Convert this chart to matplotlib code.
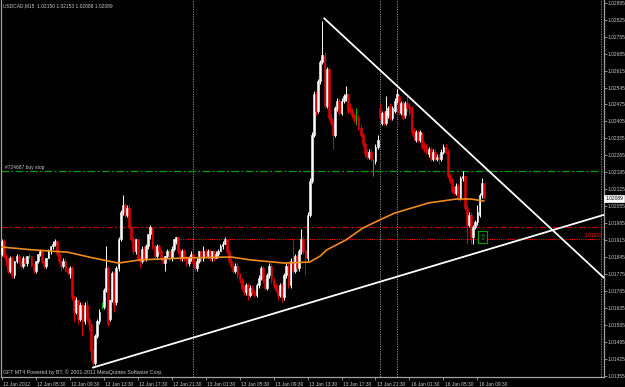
import matplotlib
matplotlib.use("Agg")
import matplotlib.pyplot as plt
import matplotlib.transforms as mtransforms
import numpy as np

# ---------------- data (USDCAD M15, first bar 12 Jan 01:30) ----------------
opens = [
 1.0186, 1.0191, 1.0185, 1.0183, 1.0179, 1.0184, 1.0177, 1.0183, 1.0185, 1.0183,
 1.0181, 1.0184, 1.0182, 1.0185, 1.0185, 1.0181, 1.0179, 1.0183, 1.0186, 1.0187,
 1.0183, 1.0181, 1.0184, 1.0187, 1.0189, 1.0190, 1.0191, 1.0186, 1.0183, 1.0181,
 1.0183, 1.0179, 1.0178, 1.0180, 1.0168, 1.0162, 1.0167, 1.0159, 1.0165, 1.0158,
 1.0165, 1.0159, 1.0157, 1.0146, 1.0141, 1.0152, 1.0158, 1.0164, 1.0164, 1.0171,
 1.0180, 1.0159, 1.0167, 1.0178, 1.0166, 1.0180, 1.0192, 1.0203, 1.0206, 1.0202,
 1.0205, 1.0197, 1.0192, 1.0187, 1.0192, 1.0184, 1.0183, 1.0188, 1.0184, 1.0189,
 1.0194, 1.0197, 1.0189, 1.0185, 1.0189, 1.0187, 1.0184, 1.0182, 1.0185, 1.0187,
 1.0184, 1.0188, 1.0191, 1.0193, 1.0187, 1.0184, 1.0187, 1.0184, 1.0182, 1.0184,
 1.0186, 1.0182, 1.0180, 1.0183, 1.0187, 1.0184, 1.0187, 1.0185, 1.0187, 1.0184,
 1.0187, 1.0184, 1.0186, 1.0187, 1.0189, 1.0190, 1.0192, 1.0187, 1.0183, 1.0181,
 1.0179, 1.0181, 1.0177, 1.0175, 1.0172, 1.0170, 1.0173, 1.0169, 1.0172, 1.0170,
 1.0169, 1.0173, 1.0176, 1.0180, 1.0175, 1.0172, 1.0177, 1.0181, 1.0175, 1.0173,
 1.0171, 1.0169, 1.0173, 1.0168, 1.0177, 1.0181, 1.0173, 1.0183, 1.0179, 1.0185,
 1.0180, 1.0187, 1.0192, 1.0187, 1.0184, 1.0202, 1.0216, 1.0235, 1.0252, 1.0245,
 1.0257, 1.0265, 1.0268, 1.0247, 1.0262, 1.0242, 1.0240, 1.0235, 1.0246, 1.0249,
 1.0244, 1.0249, 1.0250, 1.0252, 1.0246, 1.0245, 1.0243, 1.0242, 1.0242, 1.0238,
 1.0235, 1.0231, 1.0228, 1.0226, 1.0228, 1.0224, 1.0224, 1.0230, 1.0246, 1.0240,
 1.0244, 1.0240, 1.0243, 1.0247, 1.0242, 1.0245, 1.0249, 1.0251, 1.0244, 1.0248,
 1.0243, 1.0248, 1.0247, 1.0246, 1.0237, 1.0233, 1.0236, 1.0233, 1.0235, 1.0231,
 1.0230, 1.0227, 1.0229, 1.0225, 1.0228, 1.0225, 1.0226, 1.0225, 1.0228, 1.0230,
 1.0228, 1.0218, 1.0216, 1.0213, 1.0211, 1.0214, 1.0209, 1.0217, 1.0218, 1.0205,
 1.0198, 1.0202, 1.0193, 1.0197, 1.0199, 1.0202, 1.0210, 1.02150,
]
highs = [
 1.0192, 1.0192, 1.0186, 1.0184, 1.0185, 1.0185, 1.0183, 1.0186, 1.0186, 1.0183,
 1.0185, 1.0185, 1.0185, 1.0186, 1.0185, 1.0182, 1.0183, 1.0186, 1.0188, 1.0188,
 1.0183, 1.0184, 1.0188, 1.0189, 1.0191, 1.0192, 1.0191, 1.0187, 1.0183, 1.0184,
 1.0184, 1.0180, 1.0181, 1.0181, 1.0169, 1.0168, 1.0167, 1.0166, 1.0166, 1.0166,
 1.0167, 1.0160, 1.0157, 1.0147, 1.0153, 1.0159, 1.0163, 1.0166, 1.0172, 1.0189,
 1.0181, 1.0167, 1.0179, 1.0179, 1.0181, 1.0193, 1.0204, 1.0210, 1.0207, 1.0206,
 1.0206, 1.0198, 1.0193, 1.0192, 1.0192, 1.0185, 1.0189, 1.0189, 1.0190, 1.0194,
 1.0198, 1.0197, 1.0190, 1.0190, 1.0190, 1.0188, 1.0185, 1.0185, 1.0188, 1.0188,
 1.0189, 1.0192, 1.0193, 1.0193, 1.0188, 1.0188, 1.0188, 1.0185, 1.0185, 1.0187,
 1.0186, 1.0183, 1.0184, 1.0187, 1.0187, 1.0189, 1.0188, 1.0188, 1.0188, 1.0187,
 1.0187, 1.0187, 1.0188, 1.0190, 1.0191, 1.0193, 1.0192, 1.0188, 1.0184, 1.0182,
 1.0182, 1.0182, 1.0178, 1.0176, 1.0173, 1.0174, 1.0174, 1.0173, 1.0173, 1.0171,
 1.0174, 1.0177, 1.0181, 1.0181, 1.0176, 1.0178, 1.0182, 1.0182, 1.0176, 1.0174,
 1.0171, 1.0174, 1.0174, 1.0178, 1.0182, 1.0182, 1.0184, 1.0192, 1.0186, 1.0186,
 1.0188, 1.0196, 1.0193, 1.0188, 1.0203, 1.0217, 1.0236, 1.0253, 1.0253, 1.0258,
 1.0266, 1.0282, 1.0269, 1.0263, 1.0263, 1.0244, 1.0241, 1.0247, 1.0250, 1.0250,
 1.0250, 1.0252, 1.0255, 1.0252, 1.0248, 1.0246, 1.0244, 1.0246, 1.0243, 1.0239,
 1.0236, 1.0232, 1.0229, 1.0229, 1.0229, 1.0225, 1.0231, 1.0235, 1.0248, 1.0245,
 1.0245, 1.0251, 1.0247, 1.0248, 1.0247, 1.0250, 1.0254, 1.0252, 1.0249, 1.0249,
 1.0249, 1.0251, 1.0248, 1.0247, 1.0238, 1.0237, 1.0237, 1.0237, 1.0236, 1.0232,
 1.0231, 1.0230, 1.0230, 1.0229, 1.0229, 1.0227, 1.0227, 1.0229, 1.0231, 1.0231,
 1.0229, 1.0219, 1.0217, 1.0214, 1.0215, 1.0215, 1.0218, 1.0220, 1.0218, 1.0206,
 1.0203, 1.0203, 1.0198, 1.0200, 1.0206, 1.0211, 1.0217, 1.02153,
]
lows = [
 1.0185, 1.0184, 1.0181, 1.0178, 1.0178, 1.0176, 1.0176, 1.0182, 1.0182, 1.0180,
 1.0180, 1.0181, 1.0181, 1.0184, 1.0181, 1.0178, 1.0178, 1.0182, 1.0185, 1.0182,
 1.0180, 1.0180, 1.0184, 1.0186, 1.0188, 1.0189, 1.0185, 1.0182, 1.0179, 1.0180,
 1.0179, 1.0177, 1.0176, 1.0167, 1.0158, 1.0161, 1.0157, 1.0158, 1.0152, 1.0157,
 1.0158, 1.0154, 1.0142, 1.0139, 1.0140, 1.0151, 1.0157, 1.0163, 1.0163, 1.0170,
 1.0156, 1.0158, 1.0166, 1.0162, 1.0165, 1.0179, 1.0191, 1.0202, 1.0201, 1.0201,
 1.0196, 1.0191, 1.0186, 1.0186, 1.0183, 1.0180, 1.0182, 1.0183, 1.0183, 1.0188,
 1.0192, 1.0188, 1.0184, 1.0184, 1.0186, 1.0183, 1.0182, 1.0179, 1.0184, 1.0183,
 1.0183, 1.0187, 1.0190, 1.0186, 1.0183, 1.0183, 1.0183, 1.0181, 1.0181, 1.0183,
 1.0181, 1.0179, 1.0179, 1.0182, 1.0183, 1.0183, 1.0184, 1.0184, 1.0183, 1.0183,
 1.0183, 1.0184, 1.0185, 1.0187, 1.0188, 1.0190, 1.0186, 1.0182, 1.0180, 1.0178,
 1.0178, 1.0176, 1.0174, 1.0171, 1.0169, 1.0169, 1.0167, 1.0168, 1.0169, 1.0168,
 1.0168, 1.0172, 1.0175, 1.0174, 1.0171, 1.0171, 1.0176, 1.0174, 1.0172, 1.0170,
 1.0167, 1.0168, 1.0166, 1.0167, 1.0176, 1.0172, 1.0172, 1.0178, 1.0178, 1.0179,
 1.0179, 1.0186, 1.0186, 1.0177, 1.0183, 1.0201, 1.0215, 1.0234, 1.0243, 1.0244,
 1.0256, 1.0264, 1.0246, 1.0246, 1.0241, 1.0239, 1.0229, 1.0234, 1.0245, 1.0243,
 1.0243, 1.0248, 1.0249, 1.0244, 1.0244, 1.0242, 1.0240, 1.0239, 1.0237, 1.0234,
 1.0230, 1.0226, 1.0225, 1.0225, 1.0224, 1.0218, 1.0223, 1.0229, 1.0241, 1.0239,
 1.0239, 1.0239, 1.0242, 1.0241, 1.0241, 1.0244, 1.0248, 1.0243, 1.0243, 1.0241,
 1.0242, 1.0245, 1.0243, 1.0235, 1.0233, 1.0232, 1.0232, 1.0232, 1.0229, 1.0228,
 1.0227, 1.0226, 1.0224, 1.0224, 1.0224, 1.0224, 1.0223, 1.0224, 1.0227, 1.0227,
 1.0217, 1.0215, 1.0211, 1.0210, 1.0210, 1.0208, 1.0208, 1.0216, 1.0204, 1.0190,
 1.0197, 1.0190, 1.0190, 1.0196, 1.0198, 1.0201, 1.0209, 1.02088,
]
closes = [
 1.0191, 1.0185, 1.0183, 1.0179, 1.0184, 1.0177, 1.0183, 1.0185, 1.0183, 1.0181,
 1.0184, 1.0182, 1.0185, 1.0185, 1.0181, 1.0179, 1.0183, 1.0186, 1.0187, 1.0183,
 1.0181, 1.0184, 1.0187, 1.0189, 1.0190, 1.0191, 1.0186, 1.0183, 1.0181, 1.0183,
 1.0179, 1.0178, 1.0180, 1.0168, 1.0162, 1.0167, 1.0159, 1.0165, 1.0158, 1.0165,
 1.0159, 1.0157, 1.0146, 1.0141, 1.0152, 1.0158, 1.0162, 1.0164, 1.0171, 1.0180,
 1.0157, 1.0167, 1.0178, 1.0165, 1.0180, 1.0192, 1.0203, 1.0206, 1.0202, 1.0205,
 1.0197, 1.0192, 1.0187, 1.0192, 1.0184, 1.0183, 1.0188, 1.0184, 1.0189, 1.0194,
 1.0197, 1.0189, 1.0185, 1.0189, 1.0187, 1.0184, 1.0182, 1.0185, 1.0187, 1.0184,
 1.0188, 1.0192, 1.0193, 1.0187, 1.0184, 1.0187, 1.0184, 1.0182, 1.0184, 1.0186,
 1.0182, 1.0180, 1.0183, 1.0187, 1.0184, 1.0187, 1.0185, 1.0187, 1.0184, 1.0187,
 1.0184, 1.0186, 1.0187, 1.0189, 1.0190, 1.0192, 1.0187, 1.0183, 1.0181, 1.0179,
 1.0181, 1.0177, 1.0175, 1.0172, 1.0170, 1.0173, 1.0169, 1.0172, 1.0170, 1.0169,
 1.0173, 1.0176, 1.0180, 1.0175, 1.0172, 1.0177, 1.0181, 1.0175, 1.0173, 1.0171,
 1.0169, 1.0173, 1.0168, 1.0177, 1.0181, 1.0173, 1.0183, 1.0179, 1.0185, 1.0180,
 1.0187, 1.0192, 1.0187, 1.0184, 1.0202, 1.0216, 1.0235, 1.0252, 1.0245, 1.0257,
 1.0265, 1.0268, 1.0247, 1.0262, 1.0242, 1.0240, 1.0235, 1.0246, 1.0249, 1.0244,
 1.0249, 1.0251, 1.0252, 1.0245, 1.0245, 1.0243, 1.0241, 1.0242, 1.0238, 1.0235,
 1.0231, 1.0227, 1.0226, 1.0228, 1.0225, 1.0224, 1.0230, 1.0233, 1.0242, 1.0244,
 1.0240, 1.0245, 1.0246, 1.0242, 1.0246, 1.0249, 1.0252, 1.0244, 1.0248, 1.0242,
 1.0248, 1.0246, 1.0244, 1.0236, 1.0234, 1.0236, 1.0233, 1.0236, 1.0230, 1.0229,
 1.0228, 1.0229, 1.0225, 1.0228, 1.0225, 1.0226, 1.0225, 1.0228, 1.0230, 1.0228,
 1.0218, 1.0216, 1.0212, 1.0211, 1.0214, 1.0209, 1.0217, 1.0218, 1.0205, 1.0198,
 1.0202, 1.0193, 1.0197, 1.0199, 1.0203, 1.0210, 1.0215, 1.02089,
]

# moving average (orange), sampled at bar indices
ma_idx = [0, 15, 31, 43, 55, 65, 86, 108, 117, 133, 145, 150, 153, 162, 170,
          178, 185, 201, 214, 221, 227]
ma_vals = [1.01887, 1.01875, 1.01866, 1.01842, 1.01821, 1.01834, 1.01842, 1.01846,
           1.01834, 1.01821, 1.01825, 1.01850, 1.01875, 1.01916, 1.01965, 1.01999,
           1.02027, 1.02069, 1.02085, 1.02085, 1.02077]

# trend lines (bar index, price)
trend_up_idx = [43, 283.6]
trend_up_px = [1.0139, 1.0202]
trend_dn_idx = [151.9, 283.6]
trend_dn_px = [1.0283, 1.0176]

# horizontal levels
buy_stop_level = 1.0220
red_level = 1.0197
order_level = 1.01922
order_start_idx = 82

# day separators (bar index)
separators = [90, 178, 186, 282.3]

# axis ticks
ytick_vals = [1.02895, 1.02825, 1.02755, 1.02685, 1.02615, 1.02545, 1.02475, 1.02405,
              1.02335, 1.02265, 1.02195, 1.02125, 1.02055, 1.01985, 1.01915, 1.01845,
              1.01775, 1.01705, 1.01635, 1.01565, 1.01495, 1.01425, 1.01355]
ytick_labels = ["%.5f" % v for v in ytick_vals]
xtick_idx = [0, 16, 32, 48, 64, 80, 96, 112, 128, 144, 160, 176, 192, 208, 224]
xtick_labels = ["12 Jan 2012", "12 Jan 05:30", "12 Jan 09:30", "12 Jan 13:30",
                "12 Jan 17:30", "12 Jan 21:30", "13 Jan 01:30", "13 Jan 05:30",
                "13 Jan 09:30", "13 Jan 13:30", "13 Jan 17:30", "13 Jan 21:30",
                "16 Jan 01:30", "16 Jan 05:30", "16 Jan 09:30"]
current_price = 1.02089
arrow_idx = 226.4
arrow_price = 1.01928

# ---------------- drawing ----------------
FONT = ['Liberation Sans', 'DejaVu Sans']
TXT = '#c8c8c8'
FS = 3.5

o = np.array(opens); h = np.array(highs); l = np.array(lows); c = np.array(closes)
idx = np.arange(len(c))

fig = plt.figure(figsize=(6.25, 3.87), dpi=100, facecolor='black')
ax = fig.add_axes([1.5 / 625, 10 / 387, 602.5 / 625, 377 / 387], facecolor='black')
ax.set_xlim(-0.1, 283.6)
ax.set_ylim(1.01351, 1.02906)

cols = []
for oo, cc in zip(o, c):
    if abs(cc - oo) < 1e-9:
        cols.append('#00c000')
    elif cc > oo:
        cols.append('#ffffff')
    else:
        cols.append('#e00000')

lo = np.minimum(l, np.minimum(o, c))
hi = np.maximum(h, np.maximum(o, c))
ax.vlines(idx, lo, hi, colors=cols, linewidth=0.7, zorder=3)
ax.bar(idx, np.abs(c - o), bottom=np.minimum(o, c), width=0.85, color=cols,
       edgecolor=cols, linewidth=0.4, zorder=4)

ax.plot(ma_idx, ma_vals, color='#f08c1e', lw=1.2, zorder=5)

ax.plot(trend_up_idx, trend_up_px, color='white', lw=1.3, zorder=6)
ax.plot(trend_dn_idx, trend_dn_px, color='white', lw=1.3, zorder=6)

ax.axhline(buy_stop_level, color='#00a000', lw=0.9, linestyle=(0, (6, 2, 1.5, 2)), zorder=2)
ax.axhline(red_level, color='#c00000', lw=0.9, linestyle=(0, (5, 2, 1.5, 2)), zorder=2)
ax.plot([order_start_idx, 283.6], [order_level, order_level], color='#ff0000',
        lw=0.8, linestyle=(0, (1, 1)), zorder=2)

for s in separators:
    ax.axvline(s, color='#a0a0a0', lw=0.6, linestyle=(0, (1.5, 1.5)), zorder=1)

# texts inside the chart
ax.text(1.5, buy_stop_level + 0.00003, "#724687 buy stop", color=TXT, fontsize=FS,
        family=FONT, va='bottom', ha='left')
ax.text(283.0, order_level + 0.00003, "1.01922", color='#ff2020', fontsize=FS,
        family=FONT, va='bottom', ha='right')
ax.text(arrow_idx, arrow_price, "\u21e7", color='#00c000', fontsize=5.5,
        family=['DejaVu Sans'], ha='center', va='center', zorder=8,
        bbox=dict(boxstyle='square,pad=0.2', fc='black', ec='#00a000', lw=0.8))

# spines
for side in ['left', 'bottom', 'right']:
    ax.spines[side].set_color('#a0a0a0')
    ax.spines[side].set_linewidth(0.9)
ax.spines['top'].set_visible(False)

# right price axis
ax.yaxis.tick_right()
ax.set_yticks(ytick_vals)
ax.set_yticklabels(ytick_labels, fontsize=FS, color=TXT, family=FONT)
ax.tick_params(axis='y', length=1.8, width=0.6, color='#a0a0a0', pad=0.8)

# bottom time axis
ax.set_xticks(xtick_idx)
ax.set_xticklabels(xtick_labels, fontsize=FS, color=TXT, family=FONT)
ax.tick_params(axis='x', length=2.5, width=0.6, color='#a0a0a0', pad=0.8)
offset = mtransforms.ScaledTranslation(1.5 / 100, 0, fig.dpi_scale_trans)
for lbl in ax.get_xticklabels():
    lbl.set_horizontalalignment('left')
    lbl.set_transform(lbl.get_transform() + offset)

# current price marker
trans = mtransforms.blended_transform_factory(ax.transAxes, ax.transData)
ax.text(1.002, current_price, "%.5f" % current_price, transform=trans, fontsize=FS,
        family=FONT, color='black', ha='left', va='center', zorder=10, clip_on=False,
        bbox=dict(boxstyle='square,pad=0.2', fc='white', ec='white', lw=0.5))

# header and footer
fig.text(3 / 625, 1 - 6 / 387, "USDCAD,M15  1.02150 1.02153 1.02088 1.02089",
         color=TXT, fontsize=FS, family=FONT, va='center', ha='left')
fig.text(3 / 625, 1 - 372 / 387,
         "GFT MT4 Powered by BT, \u00a9 2001-2011 MetaQuotes Software Corp.",
         color=TXT, fontsize=3.75, family=FONT, va='center', ha='left')

fig.savefig("out.png", dpi=100, facecolor='black')
